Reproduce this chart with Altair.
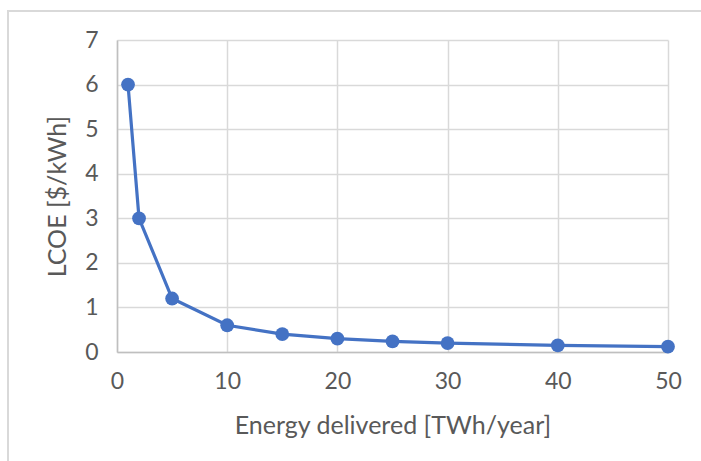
import altair as alt
import pandas as pd

# Energy delivered (TWh/year) and the levelised cost of energy ($/kWh)
energy = [1, 2, 5, 10, 15, 20, 25, 30, 40, 50]
lcoe = [6.0, 3.0, 1.2, 0.6, 0.4, 0.3, 0.24, 0.2, 0.15, 0.12]

df = pd.DataFrame({"energy": energy, "lcoe": lcoe})

FONT = "Lato"
GRAY = "#595959"
BLUE = "#4472C4"

x = alt.X(
    "energy:Q",
    scale=alt.Scale(domain=[0, 50], nice=False),
    axis=alt.Axis(
        values=[0, 10, 20, 30, 40, 50],
        title="Energy delivered [TWh/year]",
        titlePadding=20,
        labelPadding=18,
        labelFlush=False,
        ticks=False,
        domainColor="#bfbfbf",
        domainWidth=1.5,
    ),
)
y = alt.Y(
    "lcoe:Q",
    scale=alt.Scale(domain=[0, 7], nice=False),
    axis=alt.Axis(
        values=[0, 1, 2, 3, 4, 5, 6, 7],
        title="LCOE [$/kWh]",
        titlePadding=14,
        labelPadding=19,
        labelFlush=False,
        ticks=False,
        domainColor="#bfbfbf",
        domainWidth=1.5,
    ),
)

line = alt.Chart(df).mark_line(color=BLUE, strokeWidth=3.2).encode(x=x, y=y)
points = alt.Chart(df).mark_circle(color=BLUE, size=190, opacity=1).encode(x=x, y=y)

# light frame around the whole chart
frame = alt.Chart(df).mark_rect(
    fill=None, stroke="#d9d9d9", strokeWidth=1.5
).encode(
    x=alt.value(-109), x2=alt.value(600), y=alt.value(-29), y2=alt.value(440)
)

chart = (
    alt.layer(frame, line, points)
    .properties(
        width=551,
        height=312,
        padding={"left": 117, "top": 40, "right": 33, "bottom": 109},
        autosize=alt.AutoSizeParams(type="none"),
        background="white",
    )
    .configure_view(stroke=None)
    .configure_axis(
        labelFont=FONT,
        titleFont=FONT,
        labelFontSize=23,
        titleFontSize=25,
        labelColor=GRAY,
        titleColor=GRAY,
        titleFontWeight="normal",
        gridColor="#d9d9d9",
        gridWidth=1.5,
    )
)

chart.save("out.html", embed_options={"renderer": "svg", "actions": False})
